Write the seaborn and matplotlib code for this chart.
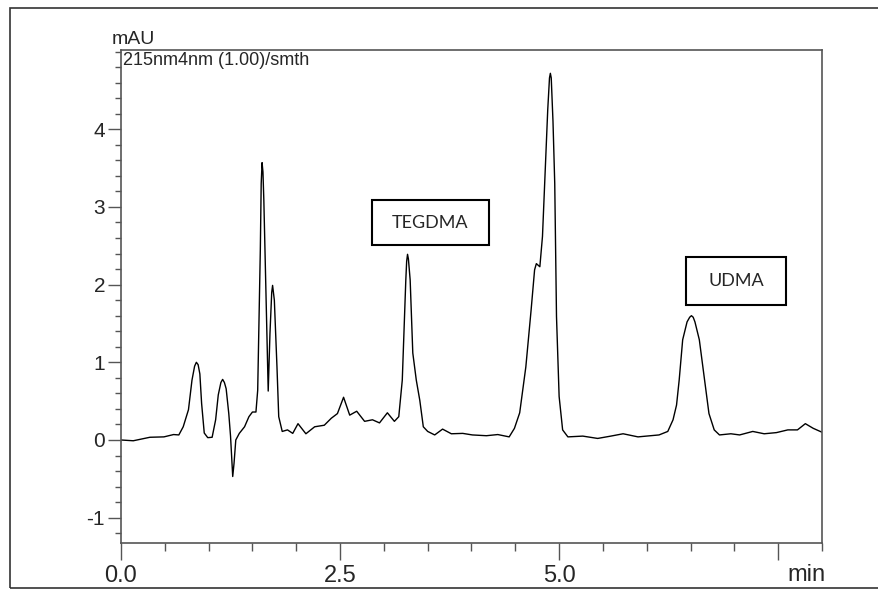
import numpy as np
import pandas as pd
import seaborn as sns
import matplotlib.pyplot as plt
from matplotlib.patches import Rectangle
from matplotlib.ticker import MultipleLocator, FixedLocator, FixedFormatter

# Chromatogramme 215 nm
temps = [0.00, 0.14, 0.33, 0.49, 0.60, 0.66, 0.71, 0.77, 0.81, 0.84, 0.86, 0.88,
         0.90, 0.92, 0.95, 0.99, 1.04, 1.08, 1.11, 1.14, 1.16, 1.18, 1.20, 1.23,
         1.25, 1.275, 1.29, 1.31, 1.35, 1.41, 1.46, 1.50, 1.54, 1.56, 1.59, 1.60,
         1.61, 1.62, 1.63, 1.66, 1.68, 1.70, 1.72, 1.73, 1.75, 1.78, 1.80, 1.84,
         1.90, 1.96, 2.02, 2.11, 2.21, 2.32, 2.40, 2.47, 2.54, 2.61, 2.69, 2.78,
         2.87, 2.95, 3.04, 3.12, 3.17, 3.21, 3.23, 3.25, 3.26, 3.27, 3.28, 3.30,
         3.33, 3.37, 3.41, 3.45, 3.50, 3.58, 3.67, 3.77, 3.90, 4.01, 4.17, 4.30,
         4.43, 4.49, 4.55, 4.62, 4.68, 4.72, 4.74, 4.78, 4.81, 4.85, 4.87, 4.89,
         4.90, 4.91, 4.93, 4.95, 4.97, 5.00, 5.04, 5.10, 5.27, 5.44, 5.59, 5.73,
         5.90, 6.14, 6.24, 6.30, 6.34, 6.37, 6.41, 6.46, 6.49, 6.51, 6.53, 6.55,
         6.60, 6.66, 6.71, 6.77, 6.83, 6.96, 7.06, 7.21, 7.34, 7.48, 7.61, 7.72,
         7.81, 7.90, 8.00]
signal = [0.00, -0.01, 0.035, 0.04, 0.07, 0.065, 0.17, 0.39, 0.77, 0.95, 1.00, 0.97,
          0.85, 0.47, 0.09, 0.03, 0.035, 0.26, 0.58, 0.74, 0.78, 0.74, 0.66, 0.34,
          0.05, -0.47, -0.30, 0.00, 0.085, 0.17, 0.30, 0.36, 0.36, 0.64, 2.45, 3.30,
          3.57, 3.45, 3.09, 1.59, 0.63, 1.37, 1.90, 1.99, 1.80, 0.94, 0.30, 0.11,
          0.13, 0.085, 0.21, 0.08, 0.17, 0.19, 0.28, 0.34, 0.55, 0.32, 0.37, 0.24,
          0.26, 0.22, 0.35, 0.24, 0.30, 0.77, 1.42, 2.05, 2.30, 2.39, 2.33, 2.06,
          1.12, 0.77, 0.51, 0.17, 0.11, 0.065, 0.14, 0.08, 0.085, 0.065, 0.055, 0.07,
          0.04, 0.15, 0.35, 0.94, 1.67, 2.19, 2.27, 2.23, 2.62, 3.73, 4.25, 4.66,
          4.72, 4.66, 4.10, 3.30, 1.59, 0.56, 0.13, 0.04, 0.05, 0.02, 0.05, 0.08,
          0.04, 0.065, 0.11, 0.26, 0.45, 0.77, 1.29, 1.52, 1.58, 1.60, 1.58, 1.52,
          1.29, 0.77, 0.34, 0.13, 0.065, 0.08, 0.065, 0.11, 0.08, 0.095, 0.13, 0.13,
          0.21, 0.15, 0.10]

x_ticks = [0.0, 2.5, 5.0, 7.5]
x_labels = ['0.0', '2.5', '5.0', '']
y_ticks = [-1, 0, 1, 2, 3, 4]
y_labels = ['-1', '0', '1', '2', '3', '4']
pics = ['TEGDMA', 'UDMA']

df = pd.DataFrame({'temps': temps, 'signal': signal})

sns.set_style('white')
plt.rcParams['font.family'] = ['Liberation Sans', 'DejaVu Sans']

fig = plt.figure(figsize=(8.79, 5.89), dpi=100)
ax = fig.add_axes([121 / 879, 1 - 543 / 589, 701 / 879, 493 / 589])

sns.lineplot(data=df, x='temps', y='signal', color='black', linewidth=1.0,
             sort=False, ax=ax)

ax.set_xlim(0, 8.0)
ax.set_ylim(-1.326, 5.02)
ax.set_xlabel('')
ax.set_ylabel('')

gris = '#555555'
for s in ax.spines.values():
    s.set_color(gris)
    s.set_linewidth(1.2)

ax.xaxis.set_major_locator(FixedLocator(x_ticks))
ax.xaxis.set_major_formatter(FixedFormatter(x_labels))
ax.xaxis.set_minor_locator(MultipleLocator(0.5))
ax.yaxis.set_major_locator(FixedLocator(y_ticks))
ax.yaxis.set_major_formatter(FixedFormatter(y_labels))
ax.yaxis.set_minor_locator(MultipleLocator(0.2))

ax.tick_params(axis='x', which='major', direction='out', length=12, width=1,
               color=gris, labelsize=17, pad=4, bottom=True)
ax.tick_params(axis='x', which='minor', direction='out', length=6, width=1,
               color=gris, bottom=True)
ax.tick_params(axis='y', which='major', direction='out', length=9.5, width=1,
               color=gris, labelsize=15, pad=2, left=True)
ax.tick_params(axis='y', which='minor', direction='out', length=4.5, width=1,
               color=gris, left=True)

# Textes
ax.text(0.003, 0.995, '215nm4nm (1.00)/smth', transform=ax.transAxes,
        fontsize=13, ha='left', va='top')
ax.text(0.017, 1.005, 'mAU', transform=ax.transAxes,
        fontsize=14, ha='center', va='bottom')
ax.text((807 - 121) / 701, -0.065, 'min', transform=ax.transAxes,
        fontsize=17, ha='center', va='center')

# Boîtes des pics
boites = [(372, 200, 489, 245), (686, 257, 786, 305)]
for nom, (x0, y0, x1, y1) in zip(pics, boites):
    fx0 = (x0 - 121) / 701
    fx1 = (x1 - 121) / 701
    fy0 = (543 - y1) / 493
    fy1 = (543 - y0) / 493
    ax.add_patch(Rectangle((fx0, fy0), fx1 - fx0, fy1 - fy0, transform=ax.transAxes,
                           fill=False, edgecolor='black', linewidth=1.5))
    ax.text((fx0 + fx1) / 2, (fy0 + fy1) / 2, nom, transform=ax.transAxes,
            fontsize=13, ha='center', va='center', family=['Lato', 'DejaVu Sans'])

# Cadre extérieur
fig.patches.append(Rectangle((10 / 879, 1 / 589), 1.0, 1 - 9 / 589,
                             transform=fig.transFigure, fill=False,
                             edgecolor='#333333', linewidth=1.2))

fig.savefig('out.png', dpi=100)
